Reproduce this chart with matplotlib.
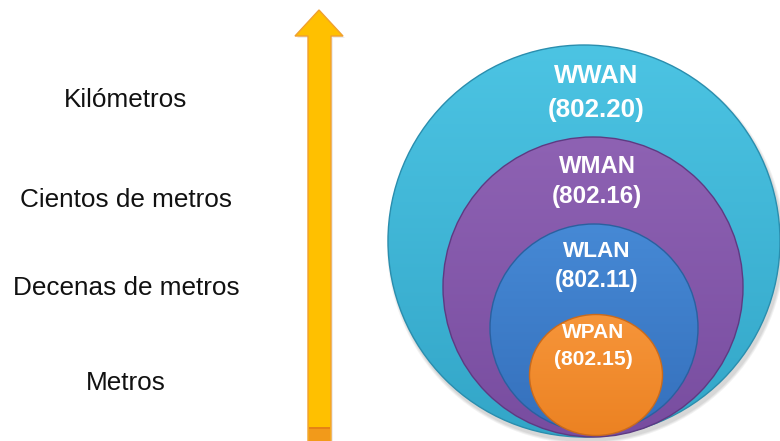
import numpy as np
import matplotlib
matplotlib.use("Agg")
import matplotlib.pyplot as plt
from matplotlib.patches import Ellipse, Polygon, Rectangle
from matplotlib.colors import LinearSegmentedColormap

# ---- content ----
scale_labels = ["Kilómetros", "Cientos de metros", "Decenas de metros", "Metros"]
net_names = ["WWAN", "WMAN", "WLAN", "WPAN"]
net_standards = ["(802.20)", "(802.16)", "(802.11)", "(802.15)"]

# ---- layout (pixel coordinates, y downward) ----
scale_y = [107, 207, 295, 390]
circle_geom = [  # cx, cy, width, height
    (584, 241, 392, 392),
    (593, 287, 300, 300),
    (594, 328, 208, 208),
    (596, 375, 133, 121),
]
circle_light = ["#4CC4E3", "#8E62B3", "#4689D5", "#F6953A"]
circle_dark = ["#33A6C8", "#784DA0", "#3570BC", "#EC8222"]
circle_edge = ["#2A8EAE", "#5E3A82", "#2A609F", "#C96A1C"]
name_base = [83, 173, 257, 338]
std_base = [117, 203, 287, 365]
text_x = [596, 597, 597, 593]
name_size = [18.5, 17.2, 16.2, 15]

fig = plt.figure(figsize=(7.8, 4.41), dpi=100)
ax = fig.add_axes([0, 0, 1, 1])
ax.set_xlim(0, 780)
ax.set_ylim(441, 0)
ax.axis("off")

# shadow under the big circle
cx, cy, w, h = circle_geom[0]
for k, a in enumerate([0.05, 0.05, 0.06]):
    ax.add_patch(Ellipse((cx + 2, cy + 4), w + 6 - 2 * k, h + 6 - 2 * k,
                         facecolor="#000000", edgecolor="none", alpha=a, zorder=1))

for i, (cx, cy, w, h) in enumerate(circle_geom):
    e = Ellipse((cx, cy), w, h, facecolor="none", edgecolor="none", zorder=2 + i)
    ax.add_patch(e)
    cmap = LinearSegmentedColormap.from_list("g", [circle_light[i], circle_dark[i]])
    grad = np.linspace(0, 1, 256).reshape(-1, 1)
    im = ax.imshow(grad, cmap=cmap, extent=(cx - w / 2, cx + w / 2, cy + h / 2, cy - h / 2),
                   aspect="auto", zorder=2 + i, interpolation="bilinear")
    im.set_clip_path(e)
    ax.add_patch(Ellipse((cx, cy), w, h, facecolor="none", edgecolor=circle_edge[i],
                         linewidth=1.0, zorder=2.5 + i))
    ax.text(text_x[i], name_base[i], net_names[i], ha="center", va="baseline",
            fontsize=name_size[i], fontweight="bold", color="white",
            family="Liberation Sans", zorder=10)
    ax.text(text_x[i], std_base[i], net_standards[i], ha="center", va="baseline",
            fontsize=name_size[i] + 0.2, fontweight="bold", color="white",
            family="Liberation Sans", zorder=10)

ax.set_xlim(0, 780)
ax.set_ylim(441, 0)

# arrow
arrow_pts = [(308, 441), (308, 36), (295, 36), (319, 10), (343, 36), (331, 36), (331, 441)]
ax.add_patch(Polygon([(x + 2, y + 2) for x, y in arrow_pts], closed=True,
                     facecolor="#000000", alpha=0.07, edgecolor="none", zorder=1))
ax.add_patch(Polygon(arrow_pts, closed=True, facecolor="#FFC000",
                     edgecolor="#F0A030", linewidth=1.0, zorder=3, joinstyle="miter"))
ax.add_patch(Rectangle((308.6, 427), 21.8, 14, facecolor="#F29A1A", edgecolor="none", zorder=4))
ax.add_patch(Rectangle((308.6, 427), 21.8, 2, facecolor="#E58315", edgecolor="none", zorder=4))

for lab, y in zip(scale_labels, scale_y):
    ax.text(126, y, lab, ha="center", va="baseline", fontsize=18.8,
            family="Liberation Sans", color="#111111")

fig.savefig("out.png", dpi=100)
